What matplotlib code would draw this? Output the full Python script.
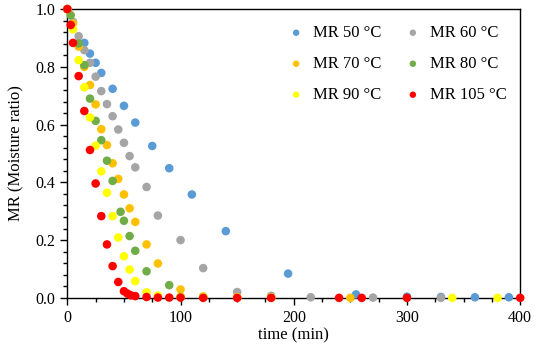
import matplotlib.pyplot as plt
from matplotlib.ticker import MultipleLocator

plt.rcParams['font.family'] = ['Liberation Serif', 'DejaVu Serif']

# drying data: time (min) and moisture ratio
t50 = [0, 15, 20, 25, 30, 40, 50, 60, 75, 90, 110, 140, 195, 255, 300, 330, 360, 390]
mr50 = [1.0, 0.883, 0.846, 0.814, 0.779, 0.724, 0.665, 0.607, 0.526, 0.449, 0.358,
        0.231, 0.084, 0.012, 0.004, 0.003, 0.002, 0.002]

t60 = [0, 5, 10, 15, 20, 25, 30, 35, 40, 45, 50, 55, 60, 70, 80, 100, 120, 150,
       180, 215, 270, 330]
mr60 = [1.0, 0.956, 0.906, 0.858, 0.814, 0.766, 0.716, 0.671, 0.629, 0.583, 0.537,
        0.491, 0.452, 0.384, 0.285, 0.200, 0.103, 0.020, 0.007, 0.002, 0.001, 0.0]

t70 = [0, 5, 10, 15, 20, 25, 30, 35, 40, 45, 50, 55, 60, 70, 80, 100, 120, 150,
       180, 250]
mr70 = [1.0, 0.95, 0.87, 0.80, 0.737, 0.670, 0.584, 0.529, 0.466, 0.412, 0.358,
        0.310, 0.263, 0.185, 0.119, 0.029, 0.005, 0.002, 0.001, 0.0]

t80 = [0, 3, 10, 15, 20, 25, 30, 35, 40, 47, 50, 55, 60, 70, 90, 100, 120]
mr80 = [1.0, 0.979, 0.881, 0.806, 0.690, 0.613, 0.546, 0.475, 0.405, 0.298, 0.267,
        0.214, 0.163, 0.092, 0.044, 0.004, 0.002]

t90 = [0, 5, 10, 15, 20, 25, 30, 35, 40, 45, 50, 55, 60, 70, 80, 100, 120, 150,
       180, 340, 380]
mr90 = [1.0, 0.930, 0.823, 0.729, 0.625, 0.527, 0.438, 0.364, 0.283, 0.209, 0.144,
        0.098, 0.058, 0.019, 0.008, 0.003, 0.002, 0.001, 0.001, 0.0, 0.0]

t105 = [0, 3, 5, 10, 15, 20, 25, 30, 35, 40, 45, 50, 53, 56, 60, 70, 80, 90, 100,
        120, 150, 180, 240, 260, 300, 400]
mr105 = [1.0, 0.945, 0.883, 0.768, 0.647, 0.512, 0.396, 0.283, 0.185, 0.110, 0.055,
         0.023, 0.015, 0.009, 0.006, 0.003, 0.001, 0.001, 0.001, 0.0, 0.0, 0.0, 0.0,
         0.0, 0.0, 0.0]

series = [
    ("MR 50 °C", t50, mr50, "#5B9BD5"),
    ("MR 60 °C", t60, mr60, "#A5A5A5"),
    ("MR 70 °C", t70, mr70, "#FFC000"),
    ("MR 80 °C", t80, mr80, "#70AD47"),
    ("MR 90 °C", t90, mr90, "#FFFF00"),
    ("MR 105 °C", t105, mr105, "#FF0000"),
]

fig = plt.figure(figsize=(5.43, 3.5), dpi=100)
ax = fig.add_axes([0.124, 0.149, 0.834, 0.825])

handles = []
for label, t, mr, color in series:
    h = ax.scatter(t, mr, s=38, color=color, edgecolors='none', label=label,
                   clip_on=False, zorder=3)
    handles.append(h)

ax.set_xlim(0, 400)
ax.set_ylim(0, 1.0)
ax.xaxis.set_major_locator(MultipleLocator(100))
ax.xaxis.set_minor_locator(MultipleLocator(25))
ax.yaxis.set_major_locator(MultipleLocator(0.2))
ax.yaxis.set_minor_locator(MultipleLocator(0.04))
ax.yaxis.set_major_formatter(plt.FormatStrFormatter('%.1f'))
ax.tick_params(which='major', direction='out', length=5, width=1, labelsize=11.5,
               colors='black')
ax.tick_params(which='minor', direction='out', length=3, width=1)
for s in ax.spines.values():
    s.set_linewidth(1.0)
    s.set_color('black')

ax.set_xlabel("time (min)", fontsize=12, labelpad=1)
ax.set_ylabel("MR (Moisture ratio)", fontsize=12, labelpad=8)

# Excel fills the legend row by row
order = [0, 2, 4, 1, 3, 5]
ax.legend([handles[i] for i in order], [series[i][0] for i in order],
          ncol=2, loc='upper right', bbox_to_anchor=(0.995, 0.985), frameon=False,
          fontsize=12, handletextpad=0.0, columnspacing=0.9, labelspacing=0.9,
          markerscale=0.75, borderaxespad=0.3)

plt.savefig("out.png", dpi=100)
